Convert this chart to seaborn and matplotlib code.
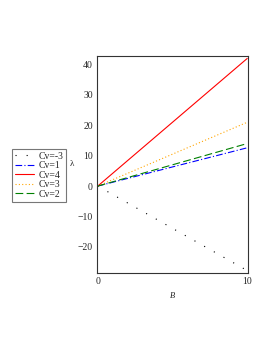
import pandas as pd
import matplotlib.pyplot as plt
import seaborn as sns

# nilai B dan lambda pada ujung garis (garis lurus dari titik asal)
B = [0, 10]
labels = ['Cv=-3', 'Cv=1', 'Cv=4', 'Cv=3', 'Cv=2']
lam_cvm3 = [0, -27.8]
lam_cv1 = [0, 12.6]
lam_cv4 = [0, 42.0]
lam_cv3 = [0, 21.0]
lam_cv2 = [0, 14.0]

rows = []
for lab, vals in zip(labels, [lam_cvm3, lam_cv1, lam_cv4, lam_cv3, lam_cv2]):
    for b, v in zip(B, vals):
        rows.append({'B': b, 'lam': v, 'Cv': lab})
df = pd.DataFrame(rows)

sns.set_style('white')
plt.rcParams['font.family'] = ['Liberation Serif', 'DejaVu Serif']

warna = {'Cv=-3': 'black', 'Cv=1': '#0000ff', 'Cv=4': '#ff0000',
         'Cv=3': '#ffa500', 'Cv=2': '#008000'}
gaya = {'Cv=-3': (1, 9), 'Cv=1': (6, 2, 1, 2), 'Cv=4': '',
        'Cv=3': (1, 2), 'Cv=2': (7, 3)}

fig = plt.figure(figsize=(2.72, 3.52), dpi=100)
ax = fig.add_axes([97 / 272, 1 - 273 / 352, 151 / 272, 217 / 352])
sns.lineplot(data=df, x='B', y='lam', hue='Cv', style='Cv', hue_order=labels,
             style_order=labels, palette=warna, dashes=gaya, linewidth=0.8, ax=ax)

ax.set_xlim(-0.05, 10.05)
ax.set_ylim(-28.6, 42.8)
ax.set_xticks([0, 10])
ax.set_yticks([-20, -10, 0, 10, 20, 30, 40])
ax.tick_params(labelsize=7, length=2, direction='in', width=0.5, pad=3)
for s in ax.spines.values():
    s.set_linewidth(0.8)
    s.set_color('#333333')
ax.set_xlabel('B', fontsize=6, style='italic', labelpad=4)
ax.set_ylabel('λ', fontsize=6.5, rotation=0, labelpad=4, va='center')

leg = ax.legend(loc='center right', bbox_to_anchor=(-0.205, 0.45), fontsize=7,
                frameon=True, fancybox=False, edgecolor='#555555',
                handlelength=2.0, labelspacing=0.05, borderpad=0.3,
                handletextpad=0.4, borderaxespad=0)
leg.get_frame().set_linewidth(0.8)

plt.savefig('out.png', dpi=100)
